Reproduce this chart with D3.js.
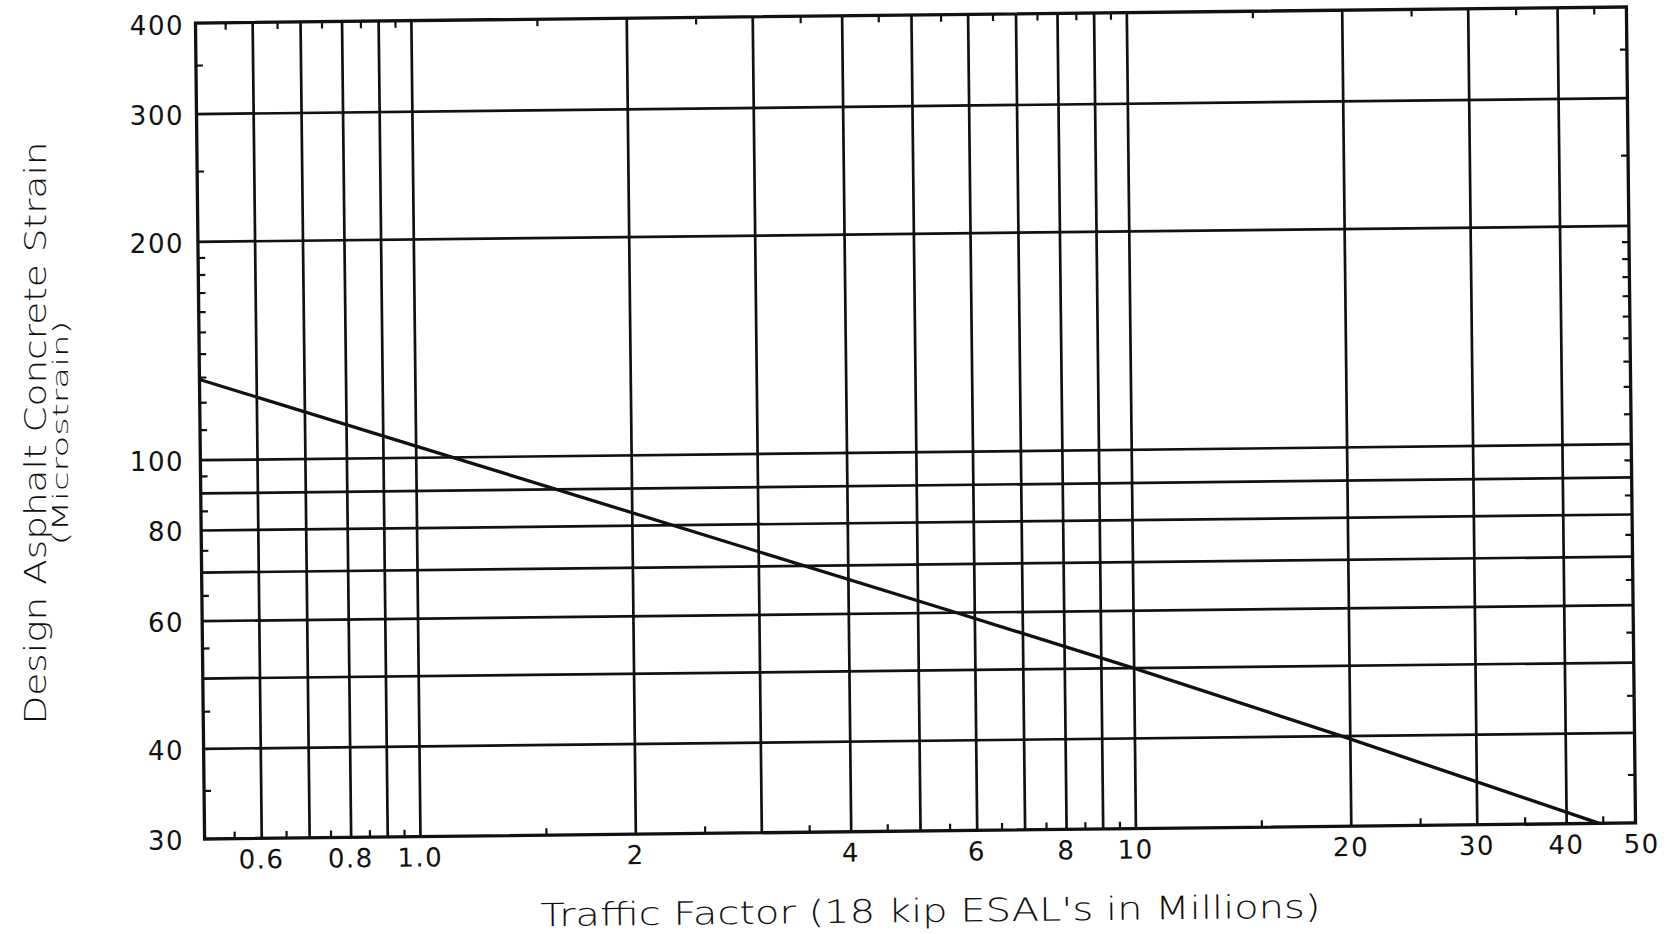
<!DOCTYPE html>
<html>
<head>
<meta charset="utf-8">
<script src="https://cdn.jsdelivr.net/npm/d3@7"></script>
<style>
  html, body { margin: 0; padding: 0; background: #fff; }
  svg { display: block; }
  text { font-family: "DejaVu Sans", sans-serif; fill: #111; }
</style>
</head>
<body>
<svg id="chart" width="1678" height="934"></svg>
<script>
// ---- data ----
const xGridValues = [0.6, 0.7, 0.8, 0.9, 1, 2, 3, 4, 5, 6, 7, 8, 9, 10, 20, 30, 40];
const xMinorTicks = [0.55, 0.65, 0.75, 0.85, 0.95, 1.5, 2.5, 3.5, 4.5, 5.5, 6.5, 7.5, 8.5, 9.5, 15, 25, 35, 45];
const xTickValues = [0.6, 0.8, 1.0, 2, 4, 6, 8, 10, 20, 30, 40, 50];
const xTickLabels = ["0.6", "0.8", "1.0", "2", "4", "6", "8", "10", "20", "30", "40", "50"];
const yGridValues = [40, 50, 60, 70, 80, 90, 100, 200, 300];
const yMinorTicks = [35, 45, 55, 65, 75, 85, 95, 110, 120, 130, 140, 150, 160, 170, 180, 190, 250, 350];
const yTickValues = [30, 40, 60, 80, 100, 200, 300, 400];
const yTickLabels = ["30", "40", "60", "80", "100", "200", "300", "400"];
const trafficESAL = [0.5, 1.12, 5.64, 9.95, 19.4, 30, 44.5];
const designStrain = [129, 100, 60, 50, 40, 34.4, 30];
const xTitle = "Traffic Factor (18 kip ESAL's in Millions)";
const yTitle1 = "Design Asphalt Concrete Strain";
const yTitle2 = "(Microstrain)";

// ---- layout ----
const plot = { left: 200, right: 1631, top: 15, bottom: 831 };
const angle = -0.64;                         // scanned page is slightly rotated
const cx = (plot.left + plot.right) / 2, cy = 423;
const th = angle * Math.PI / 180;
function toScreen(px, py) {
  const dx = px - cx, dy = py - cy;
  return [cx + dx * Math.cos(th) - dy * Math.sin(th), cy + dx * Math.sin(th) + dy * Math.cos(th)];
}

const x = d3.scaleLog().domain([0.5, 50]).range([plot.left, plot.right]);
const y = d3.scaleLog().domain([30, 400]).range([plot.bottom, plot.top]);
const W = plot.right - plot.left, H = plot.bottom - plot.top;

const svg = d3.select("#chart");
const g = svg.append("g").attr("transform", `rotate(${angle},${cx},${cy})`);

function styleAxis(sel, width) {
  sel.select(".domain").remove();
  sel.selectAll(".tick line").attr("stroke", "#111").attr("stroke-width", width);
}

// vertical gridlines
g.append("g").attr("transform", `translate(0,${plot.bottom})`)
  .call(d3.axisBottom(x).tickValues(xGridValues).tickSize(-H).tickFormat(""))
  .call(s => styleAxis(s, 2.7));
// horizontal gridlines
g.append("g").attr("transform", `translate(${plot.left},0)`)
  .call(d3.axisLeft(y).tickValues(yGridValues).tickSize(-W).tickFormat(""))
  .call(s => styleAxis(s, 2.7));

// minor ticks on all four sides (inward)
const tl = 7;
g.append("g").attr("transform", `translate(0,${plot.bottom})`)
  .call(d3.axisBottom(x).tickValues(xMinorTicks).tickSize(-tl).tickFormat(""))
  .call(s => styleAxis(s, 2.2));
g.append("g").attr("transform", `translate(0,${plot.top})`)
  .call(d3.axisTop(x).tickValues(xMinorTicks).tickSize(-tl).tickFormat(""))
  .call(s => styleAxis(s, 2.2));
g.append("g").attr("transform", `translate(${plot.left},0)`)
  .call(d3.axisLeft(y).tickValues(yMinorTicks).tickSize(-tl).tickFormat(""))
  .call(s => styleAxis(s, 2.2));
g.append("g").attr("transform", `translate(${plot.right},0)`)
  .call(d3.axisRight(y).tickValues(yMinorTicks).tickSize(-tl).tickFormat(""))
  .call(s => styleAxis(s, 2.2));

// frame
g.append("rect")
  .attr("x", plot.left).attr("y", plot.top).attr("width", W).attr("height", H)
  .attr("fill", "none").attr("stroke", "#111").attr("stroke-width", 3.3);

// design curve
const pts = trafficESAL.map((v, i) => [v, designStrain[i]]);
g.append("path")
  .datum(pts)
  .attr("fill", "none").attr("stroke", "#111").attr("stroke-width", 3.3)
  .attr("d", d3.line().x(d => x(d[0])).y(d => y(d[1])));

// x tick labels
const xLab = g.append("g").attr("transform", `translate(0,${plot.bottom})`)
  .call(d3.axisBottom(x).tickValues(xTickValues).tickSize(0).tickPadding(30)
    .tickFormat((d, i) => xTickLabels[i]));
xLab.select(".domain").remove();
xLab.selectAll("text")
  .attr("dy", 0).attr("dominant-baseline", "auto")
  .style("font-family", "'DejaVu Sans', sans-serif")
  .style("font-size", "26px").style("letter-spacing", "1.5px").attr("fill", "#111");
xLab.selectAll(".tick").attr("transform", d => `translate(${x(d) + (d === 50 ? 6 : 0)},0)`);

// x title
g.append("text")
  .attr("x", 925).attr("y", 922)
  .attr("text-anchor", "middle")
  .attr("textLength", 780).attr("lengthAdjust", "spacingAndGlyphs")
  .style("font-size", "32px").style("font-weight", "200")
  .text(xTitle);

// y tick labels (placed in page coordinates at the left gridline ends)
svg.append("g").selectAll("text")
  .data(yTickValues)
  .join("text")
  .attr("x", 184)
  .attr("y", d => toScreen(plot.left, y(d))[1] + 4)
  .attr("text-anchor", "end")
  .attr("dominant-baseline", "middle")
  .style("font-size", "26px").style("letter-spacing", "1.5px")
  .text((d, i) => yTickLabels[i]);

// y titles
svg.append("text")
  .attr("transform", "translate(46,433) rotate(-90)")
  .attr("text-anchor", "middle")
  .attr("textLength", 583).attr("lengthAdjust", "spacingAndGlyphs")
  .style("font-size", "30px").style("font-weight", "200")
  .text(yTitle1);
svg.append("text")
  .attr("transform", "translate(68,433) rotate(-90)")
  .attr("text-anchor", "middle")
  .attr("textLength", 225).attr("lengthAdjust", "spacingAndGlyphs")
  .style("font-size", "21px").style("font-weight", "200")
  .text(yTitle2);
</script>
</body>
</html>
